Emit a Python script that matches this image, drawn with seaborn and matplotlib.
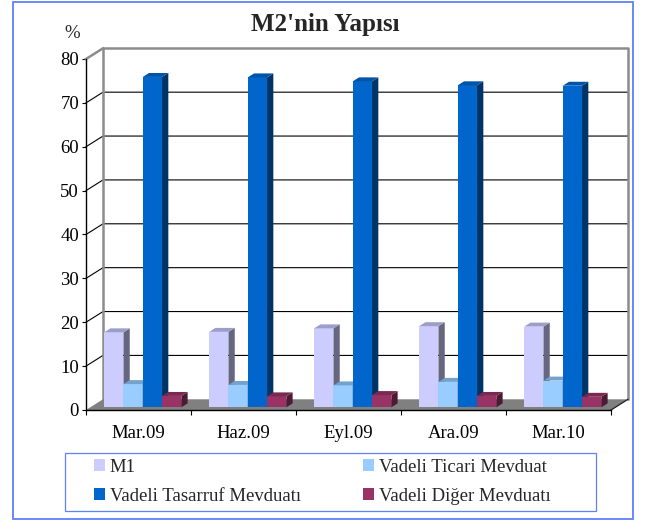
import numpy as np
import pandas as pd
import matplotlib
matplotlib.use("Agg")
import matplotlib.pyplot as plt
import seaborn as sns
from matplotlib.patches import Polygon, Rectangle, Patch
from matplotlib.lines import Line2D
from matplotlib.transforms import ScaledTranslation, IdentityTransform

# ---- data -------------------------------------------------------------
periods = ["Mar.09", "Haz.09", "Eyl.09", "Ara.09", "Mar.10"]
series = ["M1", "Vadeli Ticari Mevduat", "Vadeli Tasarruf Mevduatı", "Vadeli Diğer Mevduatı"]
m1 = [17.1, 17.2, 18.0, 18.5, 18.4]
ticari = [5.3, 5.1, 5.0, 5.8, 6.1]
tasarruf = [75.3, 75.2, 74.3, 73.4, 73.3]
diger = [2.6, 2.5, 2.8, 2.6, 2.4]
yticks = [0, 10, 20, 30, 40, 50, 60, 70, 80]

front_colors = ["#CCCCFF", "#99CCFF", "#0066CC", "#993366"]
side_colors = ["#666680", "#4D6680", "#003366", "#4D1A33"]
top_colors = ["#9D9DCC", "#74A2CC", "#0054A8", "#7A2952"]

df = pd.DataFrame({
    "period": periods * 4,
    "series": np.repeat(series, len(periods)),
    "value": m1 + ticari + tasarruf + diger,
})

# ---- figure -----------------------------------------------------------
sns.set_theme(style="white")
plt.rcParams["font.family"] = ["Liberation Serif", "DejaVu Serif"]

W, H = 645, 521
fig = plt.figure(figsize=(W / 100, H / 100), dpi=100)
fig.patch.set_facecolor("white")

# front plane of the 3-D box, in pixels from the top-left corner
FX0, FX1, FY0, FY1 = 86, 611, 410, 59
ax = fig.add_axes([FX0 / W, 1 - FY0 / H, (FX1 - FX0) / W, (FY0 - FY1) / H])
ax.set_facecolor("none")

sns.barplot(data=df, x="period", y="value", hue="series", order=periods,
            hue_order=series, palette=front_colors, width=0.735, saturation=1,
            linewidth=0, legend=False, ax=ax)
ax.set_xlim(-0.5, 4.5)
ax.set_ylim(0, 80)
ax.set_xlabel("")
ax.set_ylabel("")

# depth of the box (pixels, display coords) and where the bars sit in it
DEPTH = np.array([17.0, 10.7])
T0, T1 = 0.25, 0.62


def px(x, y, t=0.0):
    return ax.transData.transform((x, y)) + t * DEPTH


ident = IdentityTransform()


def poly(points, color, z):
    ax.add_patch(Polygon(points, closed=True, facecolor=color, edgecolor="none",
                         transform=ident, zorder=z, clip_on=False))


def line(points, color, lw, z):
    pts = np.array(points)
    ax.add_line(Line2D(pts[:, 0], pts[:, 1], color=color, lw=lw,
                       transform=ident, zorder=z, clip_on=False,
                       solid_capstyle="projecting"))


# floor
poly([px(-0.5, 0, 0), px(4.5, 0, 0), px(4.5, 0, 1), px(-0.5, 0, 1)], "#808080", 2)
line([px(4.5, 0, 0), px(4.5, 0, 1)], "#202020", 0.9, 3)

# gridlines on the side and back walls
for v in yticks[1:-1]:
    line([px(-0.5, v, 0), px(-0.5, v, 1), px(4.5, v, 1)], "black", 0.8, 1)

# wall frame
line([px(-0.5, 0, 1), px(-0.5, 80, 1), px(4.5, 80, 1), px(4.5, 0, 1)], "#8C8C8C", 1.8, 1.5)
line([px(-0.5, 80, 0), px(-0.5, 80, 1)], "#8C8C8C", 1.8, 1.5)

# bars: shift the front faces into the box and add side / top faces
shift = ScaledTranslation(T0 * DEPTH[0] / fig.dpi, T0 * DEPTH[1] / fig.dpi,
                          fig.dpi_scale_trans)
for j, cont in enumerate(ax.containers):
    for bar in cont:
        x, w, h = bar.get_x(), bar.get_width(), bar.get_height()
        bar.set_transform(ax.transData + shift)
        bar.set_zorder(10 + 3 * j)
        bar.set_clip_on(False)
        poly([px(x + w, 0, T0), px(x + w, h, T0), px(x + w, h, T1), px(x + w, 0, T1)],
             side_colors[j], 11 + 3 * j)
        poly([px(x, h, T0), px(x + w, h, T0), px(x + w, h, T1), px(x, h, T1)],
             top_colors[j], 11 + 3 * j)

# axes styling
sns.despine(ax=ax, top=True, right=True)
for s in ("left", "bottom"):
    ax.spines[s].set_color("black")
    ax.spines[s].set_linewidth(1.0)
    ax.spines[s].set_zorder(5)
ax.set_yticks(yticks)
ax.tick_params(axis="y", direction="out", length=3, width=0.8, pad=2,
               labelsize=13.5, colors="black", left=True)
ax.set_xticks(range(len(periods)))
ax.set_xticklabels(periods)
ax.set_xticks(np.arange(-0.5, len(periods)), minor=True)
ax.tick_params(axis="x", which="major", length=0, pad=11, labelsize=13.5, colors="black")
ax.tick_params(axis="x", which="minor", direction="out", length=3.5, width=0.8,
               bottom=True, colors="black")
ax.grid(False)

# titles
fig.text(325 / W, 1 - 25 / H, "M2'nin Yapısı", ha="center", va="center",
         fontsize=18, fontweight="bold")
fig.text(72 / W, 1 - 34 / H, "%", ha="center", va="center", fontsize=13.5)

# legend
BLUE = "#5F80F8"
fig.add_artist(Rectangle((65 / W, 1 - 511 / H), 531 / W, 58 / H, transform=fig.transFigure,
                         fill=False, edgecolor=BLUE, lw=0.9))
order = [0, 2, 1, 3]
handles = [Patch(facecolor=front_colors[i], edgecolor="none") for i in order]
labels = [series[i] for i in order]
fig.legend(handles, labels, ncol=2, loc="upper left",
           bbox_to_anchor=(94 / W, 1 - 459 / H), frameon=False, borderpad=0,
           borderaxespad=0, handlelength=0.6, handleheight=0.6,
           handletextpad=0.25, columnspacing=3.3, labelspacing=0.62, fontsize=13.5)

# outer border
fig.add_artist(Rectangle((13 / W, 1 - 519 / H), 620 / W, 517 / H, transform=fig.transFigure,
                         fill=False, edgecolor=BLUE, lw=1.3))

fig.savefig("out.png", dpi=100, facecolor="white")
